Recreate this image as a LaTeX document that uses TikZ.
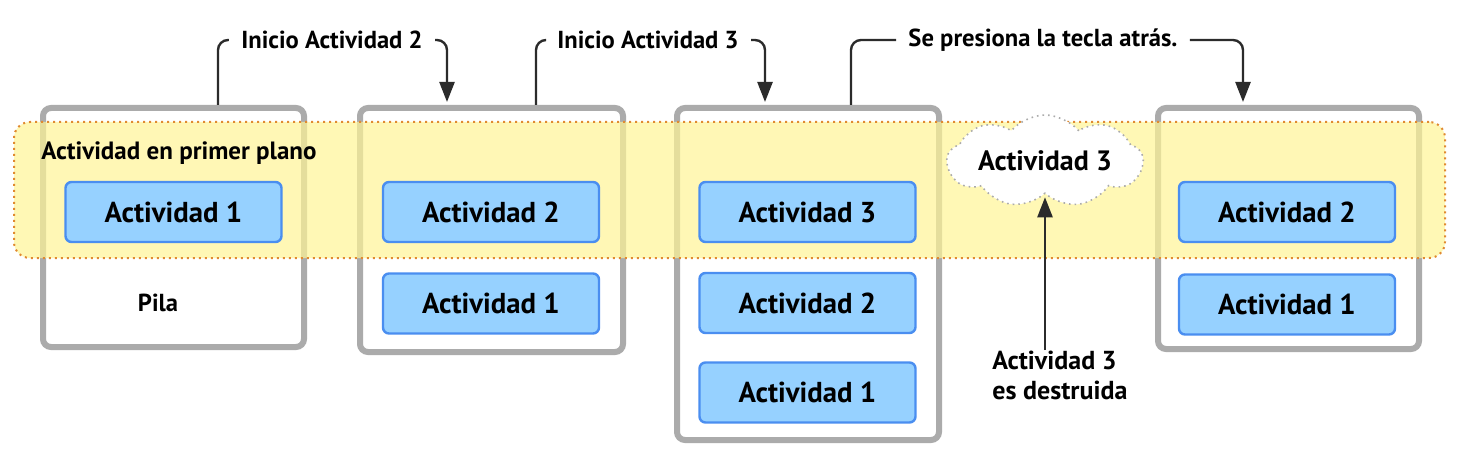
\documentclass[tikz,border=0pt]{standalone}
\usepackage{fontspec}
\setmainfont{PT Sans}
\usepackage{tikz}
\usetikzlibrary{arrows.meta}
\usetikzlibrary{shapes.symbols}
\definecolor{pilagray}{RGB}{171,171,171}
\definecolor{actfill}{RGB}{150,209,255}
\definecolor{actdraw}{RGB}{74,142,240}
\definecolor{bandfill}{RGB}{255,245,150}
\definecolor{banddraw}{RGB}{224,138,48}
\definecolor{linedark}{RGB}{43,43,43}
\tikzset{pila/.style = {draw=pilagray, line width=3pt, rounded corners=4pt,
   fill=white, inner sep=0pt},
   act/.style = {draw=actdraw, line width=1.2pt, fill=actfill, rounded corners=3pt,
   minimum width=108pt, minimum height=30pt, inner sep=0pt,
   font=\fontsize{14.4}{16}\selectfont\bfseries},
   etiq/.style = {font=\fontsize{12.3}{14}\selectfont\bfseries, inner sep=6pt},
   aviso/.style = {draw=linedark, line width=1.2pt, rounded corners=5pt},
   flecha/.style = {aviso, -{Triangle[width=7.5pt,length=10pt]}, shorten >=1.5pt}}

\begin{document}
\begin{tikzpicture}[x=0.5pt, y=-0.5pt]
    \useasboundingbox (0,0) rectangle (1457,460);
    % pilas
    \node[pila, minimum width=130.5pt, minimum height=119.5pt] (s1) at (173.5,227.5) {};
    \node[pila, minimum width=131.5pt, minimum height=122pt] (s2) at (491.5,230) {};
    \node[pila, minimum width=131pt, minimum height=166pt] (s3) at (808,274) {};
    \node[pila, minimum width=130.5pt, minimum height=120.5pt] (s4) at (1288.5,228.5) {};
    % primer plano
    \node[draw=banddraw, dotted, line width=1pt, fill=bandfill, fill opacity=0.7,
       rounded corners=8pt, minimum width=715.5pt, minimum height=68pt] (band) at (729.5,190) {};
    \node[etiq, font=\fontsize{12.5}{14}\selectfont\bfseries, inner sep=0pt, anchor=west]
       (plano) at (41,153) {Actividad en primer plano};
    \node[etiq] (pila) at (158,303) {Pila};
    % actividades
    \node[act] (a11) at (173.5,212) {Actividad 1};
    \node[act] (a22) at (491,212) {Actividad 2};
    \node[act] (a21) at (491,303.5) {Actividad 1};
    \node[act] (a33) at (807.5,212) {Actividad 3};
    \node[act] (a32) at (807.5,303) {Actividad 2};
    \node[act] (a31) at (807.5,392.5) {Actividad 1};
    \node[act] (a42) at (1287,212) {Actividad 2};
    \node[act] (a41) at (1287,304.5) {Actividad 1};
    % destruida
    \node[cloud, cloud puffs=9, cloud puff arc=100, cloud ignores aspect,
       draw=pilagray, dotted, line width=0.8pt, fill=white, inner sep=0pt,
       minimum width=98pt, minimum height=46pt,
       font=\fontsize{14}{16}\selectfont\bfseries] (nube) at (1045,161) {Actividad 3};
    \node[etiq, font=\fontsize{13}{15}\selectfont\bfseries, inner sep=0pt,
       anchor=west, align=left] (dest) at (992,375) {Actividad 3\\es destruida};
    % avisos
    \node[etiq] (ini2) at (332,40) {Inicio Actividad 2};
    \node[etiq] (ini3) at (648,40) {Inicio Actividad 3};
    \node[etiq] (atras) at (1043,40) {Se presiona la tecla atrás.};
    \coordinate (c1) at (218,0);
    \coordinate (c2) at (447,0);
    \coordinate (c3) at (536,0);
    \coordinate (c4) at (765,0);
    \coordinate (c5) at (851,0);
    \coordinate (c6) at (1243,0);
    \draw [aviso] (s1.north -| c1) |- (ini2.west);
    \draw [flecha] (ini2.east) -| (s2.north -| c2);
    \draw [aviso] (s2.north -| c3) |- (ini3.west);
    \draw [flecha] (ini3.east) -| (s3.north -| c4);
    \draw [aviso] (s3.north -| c5) |- (atras.west);
    \draw [flecha] (atras.east) -| (s4.north -| c6);
    \draw [flecha] (nube.south |- dest.north) -- (nube.south);
\end{tikzpicture}
\end{document}
